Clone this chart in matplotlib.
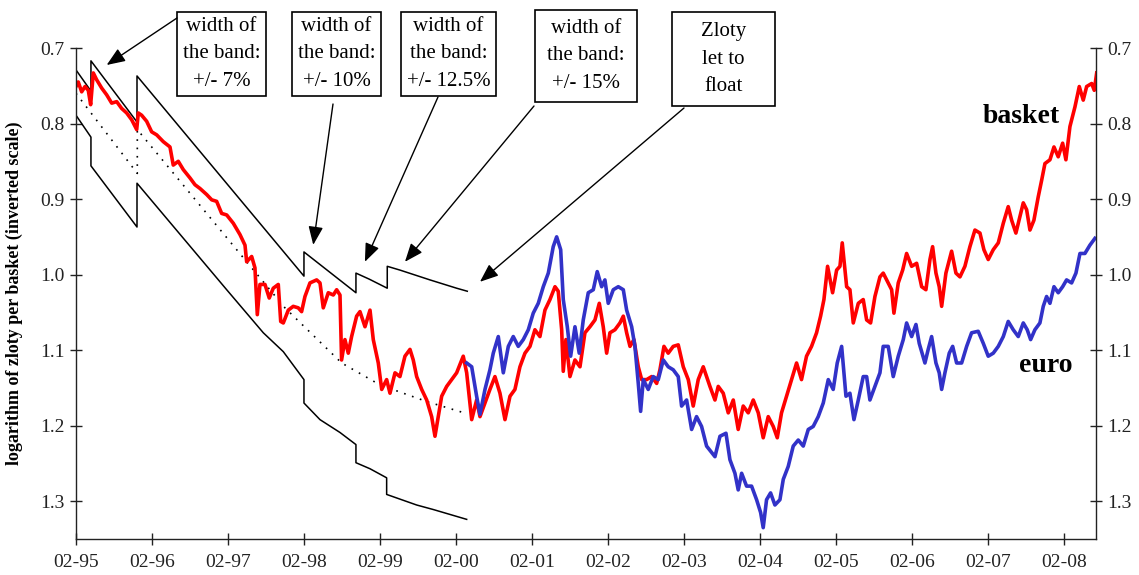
import matplotlib.pyplot as plt
from matplotlib.patches import Rectangle

plt.rcParams['font.family'] = ['Liberation Serif', 'DejaVu Serif']

# log of zloty per basket (decimal years)
basket_t = [1995.083, 1995.113, 1995.158, 1995.202, 1995.245, 1995.276, 1995.311, 1995.355, 1995.421, 1995.487,
            1995.553, 1995.619, 1995.684, 1995.750, 1995.816, 1995.882, 1995.903, 1995.947, 1996.013, 1996.079,
            1996.145, 1996.232, 1996.320, 1996.363, 1996.429, 1996.495, 1996.583, 1996.649, 1996.715, 1996.803,
            1996.869, 1996.934, 1997.000, 1997.066, 1997.153, 1997.241, 1997.307, 1997.329, 1997.395, 1997.438,
            1997.469, 1997.504, 1997.570, 1997.626, 1997.679, 1997.745, 1997.777, 1997.811, 1997.877, 1997.942,
            1998.008, 1998.052, 1998.096, 1998.162, 1998.250, 1998.294, 1998.337, 1998.403, 1998.469, 1998.513,
            1998.557, 1998.578, 1998.622, 1998.666, 1998.710, 1998.776, 1998.820, 1998.886, 1998.952, 1998.995,
            1999.061, 1999.106, 1999.171, 1999.215, 1999.281, 1999.346, 1999.412, 1999.478, 1999.521, 1999.566,
            1999.632, 1999.698, 1999.763, 1999.807, 1999.850, 1999.895, 1999.961, 2000.026, 2000.092, 2000.179,
            2000.224, 2000.290, 2000.355, 2000.399, 2000.465, 2000.530, 2000.596, 2000.662, 2000.728, 2000.794,
            2000.859, 2000.925, 2000.991, 2001.057, 2001.122, 2001.188, 2001.254, 2001.320, 2001.386, 2001.429,
            2001.474, 2001.495, 2001.530, 2001.583, 2001.649, 2001.715, 2001.780, 2001.846, 2001.912, 2001.969,
            2002.021, 2002.066, 2002.109, 2002.175, 2002.241, 2002.285, 2002.329, 2002.373, 2002.425, 2002.482,
            2002.527, 2002.592, 2002.658, 2002.724, 2002.767, 2002.820, 2002.876, 2002.942, 2003.008, 2003.074,
            2003.140, 2003.205, 2003.271, 2003.337, 2003.425, 2003.491, 2003.534, 2003.600, 2003.666, 2003.732,
            2003.797, 2003.863, 2003.929, 2003.995, 2004.061, 2004.126, 2004.192, 2004.258, 2004.311, 2004.367,
            2004.433, 2004.499, 2004.565, 2004.630, 2004.696, 2004.762, 2004.828, 2004.881, 2004.925, 2004.973,
            2005.039, 2005.092, 2005.136, 2005.166, 2005.224, 2005.267, 2005.311, 2005.377, 2005.442, 2005.487,
            2005.539, 2005.596, 2005.662, 2005.705, 2005.771, 2005.816, 2005.846, 2005.903, 2005.961, 2006.013,
            2006.079, 2006.145, 2006.211, 2006.267, 2006.320, 2006.355, 2006.399, 2006.442, 2006.474, 2006.530,
            2006.605, 2006.662, 2006.715, 2006.780, 2006.846, 2006.912, 2006.978, 2007.030, 2007.087, 2007.153,
            2007.219, 2007.285, 2007.350, 2007.395, 2007.451, 2007.504, 2007.548, 2007.592, 2007.636, 2007.688,
            2007.745, 2007.790, 2007.833, 2007.899, 2007.952, 2008.008, 2008.066, 2008.109, 2008.162, 2008.228,
            2008.285, 2008.337, 2008.382, 2008.448, 2008.482, 2008.514]
basket_v = [0.751, 0.745, 0.758, 0.751, 0.756, 0.775, 0.733, 0.742, 0.753, 0.762,
            0.773, 0.771, 0.780, 0.786, 0.795, 0.808, 0.786, 0.789, 0.797, 0.811,
            0.815, 0.824, 0.831, 0.855, 0.850, 0.861, 0.872, 0.881, 0.886, 0.894,
            0.901, 0.903, 0.919, 0.921, 0.932, 0.947, 0.961, 0.983, 0.976, 0.991,
            1.053, 1.013, 1.013, 1.031, 1.018, 1.013, 1.062, 1.064, 1.047, 1.042,
            1.044, 1.049, 1.029, 1.011, 1.007, 1.011, 1.044, 1.024, 1.027, 1.020,
            1.027, 1.113, 1.086, 1.104, 1.082, 1.055, 1.049, 1.069, 1.047, 1.086,
            1.117, 1.152, 1.139, 1.157, 1.130, 1.135, 1.108, 1.099, 1.113, 1.135,
            1.152, 1.166, 1.188, 1.214, 1.188, 1.161, 1.148, 1.139, 1.130, 1.108,
            1.130, 1.192, 1.166, 1.188, 1.170, 1.152, 1.135, 1.157, 1.192, 1.161,
            1.152, 1.122, 1.104, 1.095, 1.073, 1.082, 1.047, 1.033, 1.016, 1.022,
            1.073, 1.128, 1.086, 1.135, 1.113, 1.122, 1.077, 1.069, 1.060, 1.038,
            1.069, 1.104, 1.077, 1.073, 1.064, 1.055, 1.077, 1.095, 1.086, 1.122,
            1.139, 1.139, 1.135, 1.144, 1.126, 1.095, 1.104, 1.095, 1.093, 1.122,
            1.139, 1.174, 1.139, 1.122, 1.148, 1.166, 1.148, 1.157, 1.183, 1.166,
            1.205, 1.174, 1.183, 1.166, 1.183, 1.216, 1.188, 1.201, 1.216, 1.183,
            1.161, 1.139, 1.117, 1.139, 1.108, 1.095, 1.077, 1.055, 1.033, 0.989,
            1.024, 0.994, 0.989, 0.958, 1.016, 1.020, 1.064, 1.038, 1.033, 1.060,
            1.064, 1.029, 1.003, 0.998, 1.011, 1.020, 1.051, 1.011, 0.994, 0.972,
            0.989, 0.985, 1.016, 1.020, 0.980, 0.963, 0.998, 1.016, 1.042, 0.998,
            0.969, 0.998, 1.003, 0.989, 0.963, 0.941, 0.945, 0.967, 0.980, 0.967,
            0.958, 0.932, 0.910, 0.928, 0.945, 0.923, 0.905, 0.914, 0.941, 0.928,
            0.897, 0.875, 0.853, 0.848, 0.831, 0.844, 0.826, 0.848, 0.804, 0.778,
            0.751, 0.769, 0.751, 0.747, 0.756, 0.733]

# log of zloty per euro
euro_t = [2000.224, 2000.290, 2000.355, 2000.399, 2000.465, 2000.530, 2000.574, 2000.640, 2000.706, 2000.772,
          2000.837, 2000.903, 2000.969, 2001.035, 2001.100, 2001.166, 2001.232, 2001.298, 2001.363, 2001.408,
          2001.461, 2001.495, 2001.548, 2001.592, 2001.649, 2001.705, 2001.758, 2001.824, 2001.890, 2001.942,
          2002.000, 2002.043, 2002.087, 2002.153, 2002.219, 2002.285, 2002.329, 2002.395, 2002.438, 2002.482,
          2002.513, 2002.548, 2002.613, 2002.679, 2002.745, 2002.811, 2002.876, 2002.942, 2003.008, 2003.052,
          2003.118, 2003.184, 2003.249, 2003.315, 2003.381, 2003.491, 2003.557, 2003.636, 2003.688, 2003.754,
          2003.797, 2003.842, 2003.907, 2003.973, 2004.039, 2004.092, 2004.126, 2004.170, 2004.223, 2004.280,
          2004.346, 2004.390, 2004.455, 2004.521, 2004.587, 2004.653, 2004.719, 2004.784, 2004.850, 2004.916,
          2004.982, 2005.047, 2005.100, 2005.158, 2005.215, 2005.267, 2005.320, 2005.377, 2005.442, 2005.487,
          2005.530, 2005.596, 2005.662, 2005.705, 2005.771, 2005.837, 2005.903, 2005.969, 2006.013, 2006.079,
          2006.136, 2006.179, 2006.254, 2006.297, 2006.342, 2006.399, 2006.442, 2006.474, 2006.517, 2006.574,
          2006.619, 2006.671, 2006.737, 2006.803, 2006.868, 2006.955, 2007.022, 2007.087, 2007.153, 2007.219,
          2007.285, 2007.350, 2007.416, 2007.482, 2007.548, 2007.600, 2007.645, 2007.701, 2007.767, 2007.811,
          2007.855, 2007.899, 2007.952, 2008.008, 2008.066, 2008.118, 2008.184, 2008.241, 2008.294, 2008.359,
          2008.425, 2008.491]
euro_v = [1.117, 1.122, 1.161, 1.185, 1.152, 1.126, 1.104, 1.082, 1.130, 1.095,
          1.082, 1.095, 1.086, 1.073, 1.051, 1.038, 1.016, 0.998, 0.963, 0.950,
          0.967, 1.033, 1.069, 1.108, 1.069, 1.104, 1.060, 1.024, 1.020, 0.996,
          1.016, 1.007, 1.038, 1.020, 1.016, 1.020, 1.047, 1.069, 1.095, 1.144,
          1.181, 1.139, 1.152, 1.135, 1.139, 1.113, 1.122, 1.126, 1.135, 1.174,
          1.166, 1.205, 1.188, 1.201, 1.227, 1.241, 1.214, 1.210, 1.245, 1.263,
          1.285, 1.263, 1.280, 1.280, 1.298, 1.315, 1.335, 1.298, 1.289, 1.305,
          1.298, 1.271, 1.254, 1.227, 1.219, 1.227, 1.205, 1.201, 1.188, 1.170,
          1.139, 1.152, 1.117, 1.095, 1.161, 1.157, 1.192, 1.166, 1.135, 1.135,
          1.166, 1.148, 1.130, 1.095, 1.095, 1.135, 1.108, 1.086, 1.064, 1.082,
          1.066, 1.091, 1.117, 1.099, 1.082, 1.117, 1.130, 1.152, 1.130, 1.104,
          1.095, 1.117, 1.117, 1.095, 1.077, 1.075, 1.091, 1.108, 1.104, 1.095,
          1.082, 1.062, 1.073, 1.082, 1.064, 1.073, 1.086, 1.073, 1.064, 1.042,
          1.029, 1.038, 1.016, 1.024, 1.016, 1.007, 1.011, 0.998, 0.972, 0.972,
          0.961, 0.952]

# fluctuation band and central parity
upper_t = [1995.083, 1995.280, 1995.280, 1995.886, 1995.886, 1998.083, 1998.083, 1998.767, 1998.767,
           1998.942, 1999.179, 1999.179, 1999.346, 1999.741, 2000.092, 2000.232]
upper_v = [0.729, 0.757, 0.717, 0.798, 0.737, 1.002, 0.970, 1.024, 0.998,
           1.006, 1.018, 0.989, 0.994, 1.007, 1.018, 1.022]
lower_t = [1995.083, 1995.280, 1995.280, 1995.886, 1995.886, 1997.066, 1997.548, 1997.811, 1998.083,
           1998.083, 1998.294, 1998.557, 1998.767, 1998.767, 1998.952, 1999.171, 1999.171, 1999.566,
           1999.785, 2000.224]
lower_v = [0.789, 0.818, 0.856, 0.937, 0.879, 1.020, 1.077, 1.102, 1.139,
           1.170, 1.192, 1.209, 1.225, 1.249, 1.257, 1.269, 1.291, 1.305,
           1.311, 1.324]
parity_t = [1995.083, 1995.890, 1995.890, 1997.329, 1997.833, 1998.579, 1999.083, 1999.697, 2000.224]
parity_v = [0.760, 0.866, 0.808, 0.983, 1.044, 1.117, 1.146, 1.168, 1.184]

tick_years = list(range(1995, 2009))
tick_labels = ['02-%02d' % (y % 100) for y in tick_years]
y_ticks = [0.7, 0.8, 0.9, 1.0, 1.1, 1.2, 1.3]

notes = ['width of\nthe band:\n+/- 7%', 'width of\nthe band:\n+/- 10%', 'width of\nthe band:\n+/- 12.5%',
         'width of\nthe band:\n+/- 15%', 'Zloty\nlet to\nfloat']
note_t = [1995.487, 1998.205, 1998.885, 1999.412, 2000.399]
note_v = [0.7225, 0.9606, 0.983, 0.983, 1.0095]

W, H = 1139, 575
fig = plt.figure(figsize=(W / 100, H / 100), dpi=100)
ax = fig.add_axes([76 / W, 1 - 539 / H, 1020 / W, 491 / H])

ax.plot(upper_t, upper_v, color='black', lw=1.1)
ax.plot(lower_t, lower_v, color='black', lw=1.1)
ax.plot(parity_t, parity_v, color='black', lw=1.2, ls=(0, (1, 4)))
ax.plot(basket_t, basket_v, color='#ff0000', lw=2.6)
ax.plot(euro_t, euro_v, color='#3232c8', lw=2.6)

ax.set_xlim(1995 + 1 / 12, 2008.505)
ax.set_ylim(1.35, 0.7)
ax.set_xticks([y + 1 / 12 for y in tick_years])
ax.set_xticklabels(tick_labels)
ax.set_yticks(y_ticks)
ax.set_yticklabels(['%.1f' % v for v in y_ticks])
ax.tick_params(direction='inout', length=8, width=1, labelsize=14, colors='#222222')
ax.tick_params(axis='y', right=True, labelright=True, pad=4)
ax.tick_params(axis='x', pad=7)
ax.spines['top'].set_visible(False)
for s in ['left', 'right', 'bottom']:
    ax.spines[s].set_linewidth(1.0)
    ax.spines[s].set_color('#222222')

ax.set_ylabel('logarithm of zloty per basket (inverted scale)', fontsize=13, fontweight='bold')
ax.yaxis.set_label_coords(-0.052, 0.5)

ax.text(2007.517, 0.799, 'basket', fontsize=20, fontweight='bold', ha='center', va='baseline')
ax.text(2007.846, 1.1286, 'euro', fontsize=20, fontweight='bold', ha='center', va='baseline')

# boxes: (left, top, right, bottom) in pixels, arrow start in pixels
boxes = [(177, 12, 266, 96), (292, 12, 381, 96), (401, 12, 496, 96), (535, 10, 637, 102), (672, 12, 775, 106)]
starts = [(177, 18), (333, 104), (438, 97), (534, 106), (684, 108)]
for txt, bx, st, t, v in zip(notes, boxes, starts, note_t, note_v):
    x0, y0, x1, y1 = bx
    fig.add_artist(Rectangle((x0 / W, 1 - y1 / H), (x1 - x0) / W, (y1 - y0) / H,
                             transform=fig.transFigure, fill=False, ec='black', lw=1.2))
    fig.text((x0 + x1) / 2 / W, 1 - (y0 + y1) / 2 / H, txt, fontsize=15, ha='center', va='center',
             linespacing=1.6)
    ax.annotate('', xy=(t, v), xycoords='data', xytext=(st[0] / W, 1 - st[1] / H),
                textcoords='figure fraction', annotation_clip=False,
                arrowprops=dict(arrowstyle='-|>,head_length=0.7,head_width=0.28', color='black',
                                lw=1.0, shrinkA=0, shrinkB=0, mutation_scale=16))

plt.savefig('out.png', dpi=100)
